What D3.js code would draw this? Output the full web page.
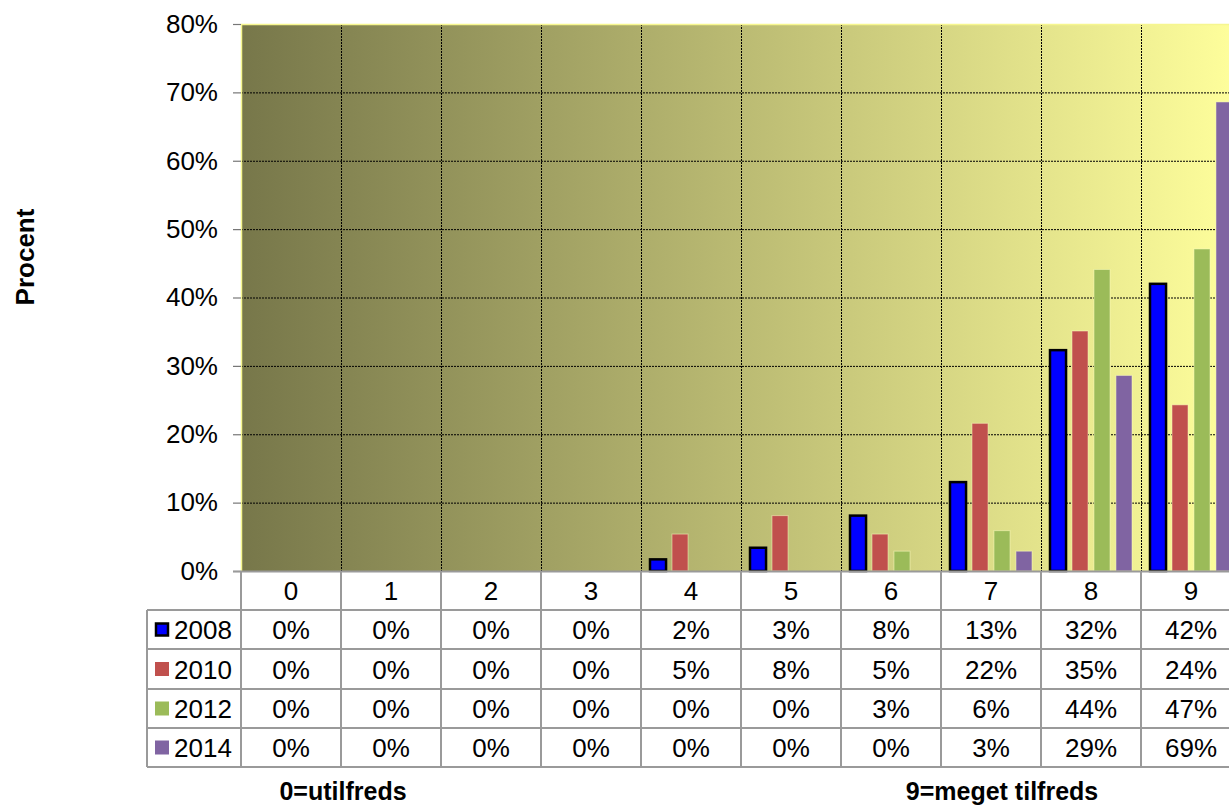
<!DOCTYPE html>
<html>
<head>
<meta charset="utf-8">
<script src="https://cdn.jsdelivr.net/npm/d3@7"></script>
<style>
  html, body { margin: 0; padding: 0; background: #fff; overflow: hidden; }
  svg { display: block; font-family: Arial, "Liberation Sans", sans-serif; }
</style>
</head>
<body>
<svg id="chart" width="1229" height="807"></svg>
<script>
const categories = ["0", "1", "2", "3", "4", "5", "6", "7", "8", "9"];
const seriesNames = ["2008", "2010", "2012", "2014"];
const values2008 = [0, 0, 0, 0, 1.7, 3.4, 8.1, 13.0, 32.3, 42.0];
const values2010 = [0, 0, 0, 0, 5.4, 8.1, 5.4, 21.6, 35.1, 24.3];
const values2012 = [0, 0, 0, 0, 0, 0, 2.9, 5.9, 44.1, 47.1];
const values2014 = [0, 0, 0, 0, 0, 0, 0, 2.9, 28.6, 68.6];
const yTicks = [0, 10, 20, 30, 40, 50, 60, 70, 80];
const seriesColors = ["#0000FF", "#C0504D", "#9BBB59", "#8064A2"];
const yTitle = "Procent";
const leftNote = "0=utilfreds";
const rightNote = "9=meget tilfreds";

const seriesValues = [values2008, values2010, values2012, values2014];

const FS = 26;
const svg = d3.select("#chart");
const plotLeft = 241, plotRight = 1241, plotTop = 24, plotBottom = 571;

const x = d3.scaleBand().domain(categories).range([plotLeft, plotRight]).padding(0);
const y = d3.scaleLinear().domain([0, 80]).range([plotBottom, plotTop]);
const x1 = d3.scaleBand().domain(seriesNames).range([9, 91]).paddingInner(0.27).paddingOuter(0);

// gradient background
const defs = svg.append("defs");
const grad = defs.append("linearGradient").attr("id", "bg")
  .attr("gradientUnits", "userSpaceOnUse")
  .attr("x1", plotLeft).attr("x2", plotRight).attr("y1", 0).attr("y2", 0);
grad.append("stop").attr("offset", "0%").attr("stop-color", "#77774a");
grad.append("stop").attr("offset", "100%").attr("stop-color", "#ffff9c");

svg.append("rect")
  .attr("x", plotLeft).attr("y", plotTop)
  .attr("width", plotRight - plotLeft).attr("height", plotBottom - plotTop)
  .attr("fill", "url(#bg)");

// gridlines horizontal
svg.append("g").selectAll("line").data(yTicks.filter(d => d > 0 && d < 80)).join("line")
  .attr("x1", plotLeft).attr("x2", plotRight)
  .attr("y1", d => y(d) + 0.5).attr("y2", d => y(d) + 0.5)
  .attr("stroke", "#000").attr("stroke-width", 1).attr("stroke-dasharray", "2,1");

// gridlines vertical
svg.append("g").selectAll("line").data(categories.slice(1)).join("line")
  .attr("x1", d => x(d) + 0.5).attr("x2", d => x(d) + 0.5)
  .attr("y1", plotTop).attr("y2", plotBottom)
  .attr("stroke", "#000").attr("stroke-width", 1).attr("stroke-dasharray", "2,1");

// plot border (light)
svg.append("path")
  .attr("d", `M${plotLeft + 0.5},${plotBottom} V${plotTop + 0.5} H${plotRight}`)
  .attr("fill", "none").attr("stroke", "#f6f690").attr("stroke-width", 1.5);

// bars
seriesNames.forEach((s, si) => {
  const g = svg.append("g");
  g.selectAll("rect").data(categories.map((c, i) => ({ c, v: seriesValues[si][i] })).filter(d => d.v > 0))
    .join("rect")
    .attr("x", d => x(d.c) + x1(s))
    .attr("y", d => y(d.v))
    .attr("width", x1.bandwidth())
    .attr("height", d => plotBottom - y(d.v))
    .attr("fill", seriesColors[si])
    .attr("stroke", si === 0 ? "#000" : "rgba(255,255,200,0.5)")
    .attr("stroke-width", si === 0 ? 2.5 : 1);
});

// y axis
const yAxis = d3.axisLeft(y).tickValues(yTicks).tickFormat(d => d + "%").tickSize(8).tickPadding(15);
const ya = svg.append("g").attr("transform", `translate(${plotLeft},0)`).call(yAxis);
ya.select(".domain").remove();
ya.selectAll(".tick line").attr("stroke", "#777").attr("stroke-width", 1.2);
ya.selectAll(".tick text").attr("font-size", FS).attr("fill", "#000")
  .attr("font-family", "Arial, 'Liberation Sans', sans-serif");

// y-axis title
svg.append("text")
  .attr("transform", "translate(34,257) rotate(-90)")
  .attr("text-anchor", "middle")
  .attr("font-size", FS).attr("font-weight", "bold")
  .text(yTitle);

// data table
const tableLeft = 147;
const rowEdges = [571, 610, 649, 689, 728, 767];
const tg = svg.append("g");
const gridColor = "#9a9a9a";

// header cells text
tg.selectAll("text.cat").data(categories).join("text")
  .attr("class", "cat")
  .attr("x", d => x(d) + x.bandwidth() / 2)
  .attr("y", (rowEdges[0] + rowEdges[1]) / 2 + 9.5)
  .attr("text-anchor", "middle").attr("font-size", FS)
  .text(d => d);

// horizontal lines
[1, 2, 3, 4, 5].forEach(r => {
  tg.append("line").attr("x1", tableLeft).attr("x2", plotRight)
    .attr("y1", rowEdges[r]).attr("y2", rowEdges[r])
    .attr("stroke", gridColor).attr("stroke-width", 2);
});
// axis baseline
tg.append("line").attr("x1", plotLeft - 8).attr("x2", plotRight)
  .attr("y1", plotBottom + 0.5).attr("y2", plotBottom + 0.5)
  .attr("stroke", gridColor).attr("stroke-width", 2);
// vertical lines
categories.forEach(c => {
  tg.append("line").attr("x1", x(c)).attr("x2", x(c))
    .attr("y1", rowEdges[0]).attr("y2", rowEdges[5])
    .attr("stroke", gridColor).attr("stroke-width", 2);
});
tg.append("line").attr("x1", tableLeft).attr("x2", tableLeft)
  .attr("y1", rowEdges[1]).attr("y2", rowEdges[5])
  .attr("stroke", gridColor).attr("stroke-width", 2);

// series rows
seriesNames.forEach((s, si) => {
  const top = rowEdges[si + 1], bot = rowEdges[si + 2];
  const cy = (top + bot) / 2;
  // legend key
  if (si === 0) {
    tg.append("rect")
      .attr("x", 156).attr("y", cy - 6).attr("width", 12).attr("height", 12)
      .attr("fill", seriesColors[si])
      .attr("stroke", "#000").attr("stroke-width", 2.5);
  } else {
    tg.append("rect")
      .attr("x", 155).attr("y", cy - 7).attr("width", 14).attr("height", 14)
      .attr("fill", seriesColors[si]);
  }
  tg.append("text").attr("x", 174).attr("y", cy + 9.5)
    .attr("font-size", FS).text(s);
  tg.selectAll(null).data(categories).join("text")
    .attr("x", c => x(c) + x.bandwidth() / 2)
    .attr("y", cy + 9.5)
    .attr("text-anchor", "middle").attr("font-size", FS)
    .text((c, i) => Math.round(seriesValues[si][i]) + "%");
});

// bottom notes
svg.append("text").attr("x", 343).attr("y", 800)
  .attr("text-anchor", "middle").attr("font-size", 25).attr("font-weight", "bold")
  .text(leftNote);
svg.append("text").attr("x", 1002).attr("y", 800)
  .attr("text-anchor", "middle").attr("font-size", 25).attr("font-weight", "bold")
  .text(rightNote);
</script>
</body>
</html>
